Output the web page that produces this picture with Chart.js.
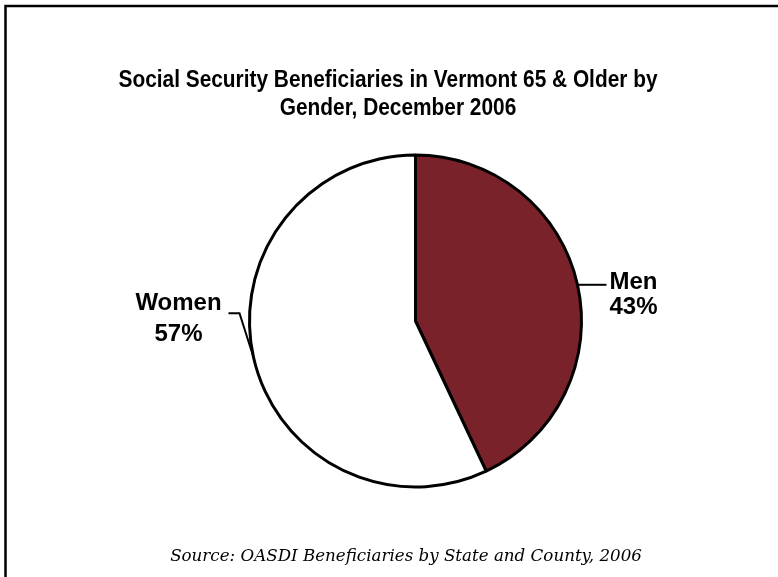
<!DOCTYPE html>
<html>
<head>
<meta charset="utf-8">
<script src="https://cdn.jsdelivr.net/npm/chart.js@4/dist/chart.umd.min.js"></script>
<style>
html,body{margin:0;padding:0;background:#fff;}
#wrap{width:778px;height:577px;position:relative;}
</style>
</head>
<body>
<div id="wrap"><canvas id="c" width="778" height="577"></canvas></div>
<script>
const titleLines = ["Social Security Beneficiaries in Vermont 65 & Older by", "Gender, December 2006"];
const categories = ["Men", "Women"];
const values = [43, 57];
const colors = ["#7a2229", "#ffffff"];
const sourceText = "Source: OASDI Beneficiaries by State and County, 2006";

const overlay = {
  id: 'overlay',
  afterDraw(chart) {
    const ctx = chart.ctx;
    ctx.save();
    // frame (left and top)
    ctx.strokeStyle = '#000';
    ctx.lineWidth = 2.5;
    ctx.beginPath();
    ctx.moveTo(5.5, 577);
    ctx.lineTo(5.5, 6);
    ctx.lineTo(778, 6);
    ctx.stroke();
    // title (condensed bold)
    ctx.fillStyle = '#000';
    ctx.textBaseline = 'alphabetic';
    ctx.font = 'bold 24px "Liberation Sans", Arial, sans-serif';
    const w1 = ctx.measureText(titleLines[0]).width;
    const s = 539 / w1;
    ctx.save();
    ctx.translate(388, 87);
    ctx.scale(s, 1);
    ctx.textAlign = 'center';
    ctx.fillText(titleLines[0], 0, 0);
    ctx.fillText(titleLines[1], 10 / s, 28);
    ctx.restore();
    // labels + leaders
    const meta = chart.getDatasetMeta(0);
    ctx.font = 'bold 24px "Liberation Sans", Arial, sans-serif';
    ctx.lineWidth = 2;
    meta.data.forEach((arc, i) => {
      const mid = (arc.startAngle + arc.endAngle) / 2;
      const r = arc.outerRadius;
      const px = arc.x + Math.cos(mid) * r;
      const py = arc.y + Math.sin(mid) * r;
      const pct = values[i] + '%';
      ctx.beginPath();
      if (Math.cos(mid) >= 0) {
        ctx.moveTo(px, py);
        ctx.lineTo(px + 29, py);
        ctx.stroke();
        ctx.textAlign = 'left';
        ctx.fillText(categories[i], px + 32, py + 4);
        ctx.fillText(pct, px + 32, py + 29);
      } else {
        ctx.moveTo(px, py);
        ctx.lineTo(px - 14, py - 44);
        ctx.lineTo(px - 25, py - 44);
        ctx.stroke();
        ctx.textAlign = 'center';
        ctx.fillText(categories[i], px - 75, py - 47);
        ctx.fillText(pct, px - 75, py - 16);
      }
    });
    // source
    ctx.font = 'italic 16.7px "DejaVu Serif", "Liberation Serif", serif';
    ctx.textAlign = 'center';
    ctx.textBaseline = 'alphabetic';
    ctx.fillText(sourceText, 406, 561);
    ctx.restore();
  }
};

new Chart(document.getElementById('c'), {
  type: 'pie',
  data: {
    labels: categories,
    datasets: [{
      data: values,
      backgroundColor: colors,
      borderColor: '#000',
      borderWidth: 3,
      borderAlign: 'center'
    }]
  },
  options: {
    responsive: false,
    animation: false,
    events: [],
    layout: { padding: { left: 248, right: 195, top: 153.5, bottom: 88.5 } },
    plugins: {
      legend: { display: false },
      title: { display: false },
      tooltip: { enabled: false }
    }
  },
  plugins: [overlay]
});
</script>
</body>
</html>
